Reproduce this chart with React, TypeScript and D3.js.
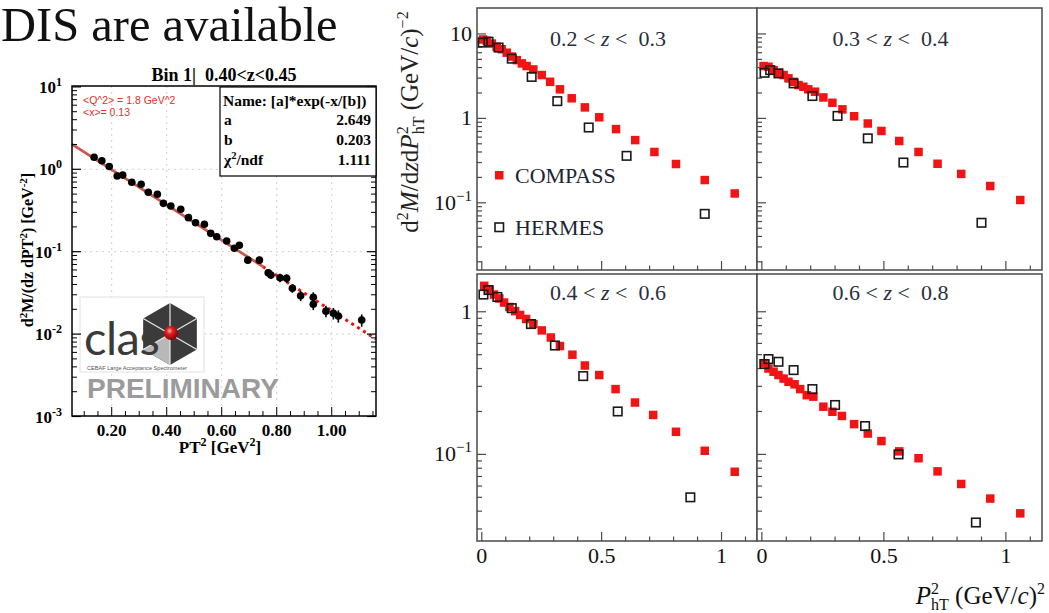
import React from "react";
import * as d3 from "d3";

const W = 1049;
const H = 613;
const SERIF = "'Liberation Serif', 'DejaVu Serif', serif";
const SANS = "'Liberation Sans', Arial, sans-serif";

// ---- CLAS preliminary, bin 1 (0.40<z<0.45)
const clasX = [0.136, 0.164, 0.191, 0.22, 0.24, 0.273, 0.307, 0.333, 0.366, 0.388, 0.415, 0.451, 0.479, 0.505, 0.537, 0.56, 0.582, 0.618, 0.646, 0.664, 0.695, 0.737, 0.769, 0.779, 0.812, 0.836, 0.857, 0.887, 0.933, 0.933, 0.979, 1.006, 1.024, 1.109];
const clasY = [1.4, 1.27, 1.08, 0.83, 0.85, 0.695, 0.658, 0.526, 0.497, 0.386, 0.359, 0.327, 0.259, 0.225, 0.215, 0.167, 0.152, 0.135, 0.11, 0.12, 0.079, 0.079, 0.0556, 0.052, 0.0483, 0.0475, 0.036, 0.0292, 0.028, 0.023, 0.019, 0.0179, 0.0166, 0.0148];
const clasErr = [0.05, 0.05, 0.05, 0.05, 0.05, 0.05, 0.05, 0.05, 0.05, 0.05, 0.06, 0.06, 0.06, 0.07, 0.07, 0.07, 0.08, 0.08, 0.08, 0.09, 0.09, 0.1, 0.1, 0.1, 0.12, 0.12, 0.12, 0.14, 0.15, 0.15, 0.16, 0.16, 0.17, 0.17];
const fitA = 2.649;
const fitB = 0.203;
const fitSolid = [0.055, 0.75];
const fitDotted = [0.75, 1.16];
const clasXTicks = [0.2, 0.4, 0.6, 0.8, 1.0];
const clasXLabels = ["0.20", "0.40", "0.60", "0.80", "1.00"];
const clasDecades = [-3, -2, -1, 0, 1];

// ---- COMPASS / HERMES multiplicities
const pX: [number, number] = [-0.02, 1.148];
const zBins = [["0.2", "0.3"], ["0.3", "0.4"], ["0.4", "0.6"], ["0.6", "0.8"]];

const c1x = [0.005, 0.021, 0.042, 0.062, 0.083, 0.104, 0.125, 0.146, 0.167, 0.187, 0.215, 0.25, 0.285, 0.326, 0.375, 0.43, 0.49, 0.56, 0.64, 0.72, 0.81, 0.93, 1.055];
const c1y = [8.6, 8.3, 7.7, 7.05, 6.6, 6.0, 5.4, 4.9, 4.48, 4.17, 3.8, 3.26, 2.71, 2.21, 1.73, 1.35, 1.03, 0.747, 0.553, 0.4, 0.288, 0.186, 0.129];
const h1x = [0.004, 0.028, 0.07, 0.125, 0.208, 0.315, 0.446, 0.604, 0.93];
const h1y = [7.9, 8.1, 6.9, 5.1, 3.1, 1.6, 0.78, 0.36, 0.074];

const c2x = [0.007, 0.027, 0.048, 0.068, 0.089, 0.109, 0.13, 0.15, 0.17, 0.19, 0.218, 0.252, 0.289, 0.33, 0.378, 0.434, 0.49, 0.563, 0.642, 0.72, 0.817, 0.936, 1.059];
const c2y = [4.17, 4.09, 3.73, 3.47, 3.26, 2.98, 2.71, 2.48, 2.37, 2.21, 2.07, 1.77, 1.53, 1.28, 1.06, 0.87, 0.71, 0.54, 0.4, 0.29, 0.22, 0.158, 0.108];
const h2x = [0.011, 0.034, 0.068, 0.13, 0.207, 0.31, 0.434, 0.58, 0.9];
const h2y = [3.47, 3.73, 3.41, 2.6, 1.84, 1.07, 0.58, 0.3, 0.058];

const c3x = [0.01, 0.032, 0.051, 0.073, 0.093, 0.115, 0.139, 0.16, 0.185, 0.215, 0.25, 0.288, 0.326, 0.378, 0.43, 0.49, 0.558, 0.639, 0.715, 0.81, 0.93, 1.055];
const c3y = [1.52, 1.42, 1.32, 1.24, 1.16, 1.08, 1.01, 0.95, 0.89, 0.82, 0.74, 0.66, 0.575, 0.5, 0.42, 0.36, 0.287, 0.231, 0.189, 0.144, 0.106, 0.0755];
const h3x = [0.007, 0.028, 0.065, 0.125, 0.205, 0.305, 0.423, 0.567, 0.87];
const h3y = [1.32, 1.42, 1.27, 1.06, 0.82, 0.58, 0.354, 0.2, 0.05];

const c4x = [0.007, 0.027, 0.048, 0.068, 0.089, 0.109, 0.134, 0.157, 0.184, 0.211, 0.252, 0.289, 0.328, 0.378, 0.434, 0.49, 0.563, 0.642, 0.72, 0.817, 0.936, 1.059];
const c4y = [0.435, 0.4, 0.38, 0.36, 0.34, 0.323, 0.31, 0.287, 0.26, 0.254, 0.216, 0.199, 0.186, 0.163, 0.14, 0.124, 0.105, 0.094, 0.076, 0.062, 0.049, 0.0386];
const h4x = [0.011, 0.027, 0.068, 0.13, 0.207, 0.3, 0.423, 0.56, 0.877];
const h4y = [0.43, 0.466, 0.446, 0.39, 0.287, 0.222, 0.158, 0.1, 0.0333];

const upperDomain: [number, number] = [0.016, 20.3];
const lowerDomain: [number, number] = [0.0247, 1.84];
const xTickLabels = ["0", "0.5", "1"];
const legendNames = ["COMPASS", "HERMES"];

const FRAME = "#4a4a4a";
const RED = "#f21414";

type PanelProps = {
  x0: number; x1: number; y0: number; y1: number;
  yDom: [number, number];
  cX: number[]; cY: number[]; hX: number[]; hY: number[];
  bin: string[];
  yLabels: boolean; xLabels: boolean; legend: boolean;
  titleY: number;
};

const Panel = (p: PanelProps) => {
  const x = d3.scaleLinear().domain(pX).range([p.x0, p.x1]);
  const y = d3.scaleLog().domain(p.yDom).range([p.y1, p.y0]);
  const yt = y.ticks().filter(v => y(v) > p.y0 + 1 && y(v) < p.y1 - 1);
  const xt = d3.range(0, 12).map(i => i / 10);
  const isMajor = (v: number) => Math.abs(Math.log10(v) - Math.round(Math.log10(v))) < 1e-6;
  const s = 8.5;
  return (
    <g>
      <rect x={p.x0} y={p.y0} width={p.x1 - p.x0} height={p.y1 - p.y0} fill="white" stroke={FRAME} strokeWidth={1.5} />
      {yt.map((v, i) => (
        <line key={"yt" + i} x1={p.x0} x2={p.x0 + (isMajor(v) ? 9 : 5)} y1={y(v)} y2={y(v)} stroke={FRAME} strokeWidth={1.2} />
      ))}
      {xt.map((v, i) => (
        <line key={"xt" + i} x1={x(v)} x2={x(v)} y1={p.y1} y2={p.y1 - (i % 5 === 0 ? 9 : 4.5)} stroke={FRAME} strokeWidth={1.2} />
      ))}
      {p.yLabels && yt.filter(isMajor).map((v, i) => {
        const e = Math.round(Math.log10(v));
        return (
          <text key={"yl" + i} x={p.x0 - 5} y={y(v) + 7} textAnchor="end" fontFamily={SERIF} fontSize={22} fill="#111">
            {e === 0 ? "1" : "10"}
            {e < 0 && <tspan dy={-9} fontSize={15}>{"\u2212" + -e}</tspan>}
          </text>
        );
      })}
      {p.xLabels && [0, 0.5, 1].map((v, i) => (
        <text key={"xl" + i} x={x(v)} y={p.y1 + 22} textAnchor="middle" fontFamily={SERIF} fontSize={22} fill="#111">{xTickLabels[i]}</text>
      ))}
      <text x={(p.x0 + p.x1) / 2 - 9} y={p.titleY} textAnchor="middle" fontFamily={SERIF} fontSize={22} fill="#2a2f3d" xmlSpace="preserve">
        {`${p.bin[0]} < `}<tspan fontStyle="italic">z</tspan>{` <  ${p.bin[1]}`}
      </text>
      {p.cX.map((v, i) => (
        <rect key={"c" + i} x={x(v) - s / 2} y={y(p.cY[i]) - s / 2} width={s} height={s} fill={RED} />
      ))}
      {p.hX.map((v, i) => (
        <rect key={"h" + i} x={x(v) - s / 2} y={y(p.hY[i]) - s / 2} width={s} height={s} fill="none" stroke="#1a1a1a" strokeWidth={1.6} />
      ))}
      {p.legend && (
        <g fontFamily={SERIF} fontSize={22} fill="#1d2433">
          <rect x={495} y={171} width={s} height={s} fill={RED} />
          <text x={515} y={183}>{legendNames[0]}</text>
          <rect x={495} y={223} width={s} height={s} fill="none" stroke="#1a1a1a" strokeWidth={1.6} />
          <text x={515} y={235}>{legendNames[1]}</text>
        </g>
      )}
    </g>
  );
};

const ClasPlot = () => {
  const x = d3.scaleLinear().domain([0.0556, 1.161]).range([72, 376]);
  const y = d3.scaleLog().domain([1e-3, 10]).range([416.5, 86.9]);
  const fit = (v: number) => fitA * Math.exp(-v / fitB);
  const line = d3.line<number>().x(v => x(v)).y(v => y(fit(v)));
  const minorY = y.ticks().filter(v => Math.abs(Math.log10(v) - Math.round(Math.log10(v))) > 1e-6);
  const minorX = d3.range(2, 24).map(i => i * 0.05).filter(v => x(v) < 375);
  return (
    <g>
      <rect x={72} y={86} width={304} height={330} fill="white" />
      {/* grid */}
      {clasXTicks.map((v, i) => (
        <line key={"gx" + i} x1={x(v)} x2={x(v)} y1={86} y2={416} stroke="#cfcfcf" strokeWidth={1} strokeDasharray="2 4" />
      ))}
      {clasDecades.slice(1, 4).map((e, i) => (
        <line key={"gy" + i} x1={72} x2={376} y1={y(Math.pow(10, e))} y2={y(Math.pow(10, e))} stroke="#cfcfcf" strokeWidth={1} strokeDasharray="2 4" />
      ))}
      {/* logo */}
      <g>
        <rect x={80} y={297} width={124} height={75} fill="white" stroke="#e2e2e2" strokeWidth={1} />
        {(() => {
          const cx0 = 170, cy0 = 334, r = 31;
          const pts = d3.range(6).map(k => {
            const a = (-90 + 60 * k) * Math.PI / 180;
            return [cx0 + r * Math.cos(a), cy0 + r * Math.sin(a)];
          });
          return (
            <g>
              <polygon points={pts.map(q => q.join(",")).join(" ")} fill="#3b3b3b" />
              <polygon points={`${cx0},${cy0} ${pts[3].join(",")} ${pts[4].join(",")}`} fill="#b8b8b8" />
              {pts.map((q, k) => (
                <line key={k} x1={cx0} y1={cy0} x2={q[0]} y2={q[1]} stroke="#e8e8e8" strokeWidth={1.2} />
              ))}
            </g>
          );
        })()}
        <text x={84} y={355} fontFamily="Lato, 'Open Sans', sans-serif" fontSize={47} fill="#3a3a3a" letterSpacing={-0.5}>clas</text>
        <defs>
          <radialGradient id="redball" cx="40%" cy="35%" r="65%">
            <stop offset="0%" stopColor="#ffb0b0" />
            <stop offset="35%" stopColor="#e32020" />
            <stop offset="100%" stopColor="#8a0000" />
          </radialGradient>
        </defs>
        <circle cx={171} cy={333} r={7} fill="url(#redball)" />
        <text x={87} y={370} fontFamily={SANS} fontSize={5.6} fill="#555">CEBAF Large Acceptance Spectrometer</text>
        <text x={87} y={398} fontFamily={SANS} fontSize={28} fontWeight="bold" fill="#9b9b9b">PRELIMINARY</text>
      </g>
      {/* fit */}
      <path d={line(d3.range(0, 11).map(i => fitSolid[0] + (fitSolid[1] - fitSolid[0]) * i / 10)) || ""} fill="none" stroke="#d2554a" strokeWidth={2.8} />
      <path d={line(fitDotted) || ""} fill="none" stroke="#f01010" strokeWidth={3} strokeDasharray="3 4" />
      {/* data */}
      {clasX.map((v, i) => (
        <g key={"p" + i}>
          <line x1={x(v)} x2={x(v)} y1={y(clasY[i] * (1 - clasErr[i]))} y2={y(clasY[i] * (1 + clasErr[i]))} stroke="black" strokeWidth={1.6} />
          <circle cx={x(v)} cy={y(clasY[i])} r={3.8} fill="black" />
        </g>
      ))}
      {/* frame & ticks */}
      <rect x={72} y={86} width={304} height={330} fill="none" stroke="black" strokeWidth={1.5} />
      {clasDecades.map((e, i) => (
        <g key={"yd" + i}>
          <line x1={72} x2={81} y1={y(Math.pow(10, e))} y2={y(Math.pow(10, e))} stroke="black" strokeWidth={1.2} />
          <line x1={376} x2={367} y1={y(Math.pow(10, e))} y2={y(Math.pow(10, e))} stroke="black" strokeWidth={1.2} />
          <text x={62} y={y(Math.pow(10, e)) + 6} textAnchor="end" fontFamily={SERIF} fontWeight="bold" fontSize={17}>
            10<tspan dy={-7} fontSize={12}>{e < 0 ? "-" + -e : String(e)}</tspan>
          </text>
        </g>
      ))}
      {minorY.map((v, i) => (
        <g key={"ym" + i}>
          <line x1={72} x2={77} y1={y(v)} y2={y(v)} stroke="black" strokeWidth={1} />
          <line x1={376} x2={371} y1={y(v)} y2={y(v)} stroke="black" strokeWidth={1} />
        </g>
      ))}
      {minorX.map((v, i) => {
        const major = Math.abs(v * 5 - Math.round(v * 5)) < 1e-6;
        return <line key={"xm" + i} x1={x(v)} x2={x(v)} y1={416} y2={416 - (major ? 9 : 5)} stroke="black" strokeWidth={1} />;
      })}
      {clasXTicks.map((v, i) => (
        <text key={"xl" + i} x={x(v)} y={436} textAnchor="middle" fontFamily={SERIF} fontWeight="bold" fontSize={17}>{clasXLabels[i]}</text>
      ))}
      {/* stats box */}
      <rect x={220} y={87} width={156} height={89} fill="white" stroke="black" strokeWidth={1.2} />
      <g fontFamily={SERIF} fontWeight="bold" fontSize={15.5}>
        <text x={223} y={106}>Name: [a]*exp(-x/[b])</text>
        <text x={224} y={125}>a</text>
        <text x={371} y={125} textAnchor="end">2.649</text>
        <text x={224} y={145}>b</text>
        <text x={371} y={145} textAnchor="end">0.203</text>
        <text x={224} y={165}>χ<tspan dy={-6} fontSize={10.5}>2</tspan><tspan dy={6}>/ndf</tspan></text>
        <text x={371} y={165} textAnchor="end">1.111</text>
      </g>
      <g fontFamily={SANS} fontSize={10.5} fill="#e0302a">
        <text x={83} y={104}>{"<Q^2> = 1.8 GeV^2"}</text>
        <text x={83} y={116}>{"<x>= 0.13"}</text>
      </g>
      {/* titles */}
      <text x={224} y={81} textAnchor="middle" fontFamily={SERIF} fontWeight="bold" fontSize={18} xmlSpace="preserve">Bin 1|  0.40&lt;z&lt;0.45</text>
      <text x={220} y={453} textAnchor="middle" fontFamily={SERIF} fontWeight="bold" fontSize={17}>
        PT<tspan dy={-7} fontSize={12}>2</tspan><tspan dy={7}> [GeV</tspan><tspan dy={-7} fontSize={12}>2</tspan><tspan dy={7}>]</tspan>
      </text>
      <text transform="translate(33,250) rotate(-90)" textAnchor="middle" fontFamily={SERIF} fontWeight="bold" fontSize={16}>
        d<tspan dy={-6} fontSize={11}>2</tspan><tspan dy={6}>M/(dz dPT</tspan><tspan dy={-6} fontSize={11}>2</tspan><tspan dy={6}>) [GeV</tspan><tspan dy={-6} fontSize={11}>-2</tspan><tspan dy={6}>]</tspan>
      </text>
    </g>
  );
};

export default function App() {
  const panels = [
    { x0: 477, x1: 757, y0: 8, y1: 270, yDom: upperDomain, cX: c1x, cY: c1y, hX: h1x, hY: h1y, yLabels: true, xLabels: false, legend: true, titleY: 46 },
    { x0: 757, x1: 1042, y0: 8, y1: 270, yDom: upperDomain, cX: c2x, cY: c2y, hX: h2x, hY: h2y, yLabels: false, xLabels: false, legend: false, titleY: 46 },
    { x0: 477, x1: 757, y0: 274, y1: 541, yDom: lowerDomain, cX: c3x, cY: c3y, hX: h3x, hY: h3y, yLabels: true, xLabels: true, legend: false, titleY: 300 },
    { x0: 757, x1: 1042, y0: 274, y1: 541, yDom: lowerDomain, cX: c4x, cY: c4y, hX: h4x, hY: h4y, yLabels: false, xLabels: true, legend: false, titleY: 300 },
  ];
  return (
    <div style={{ position: "absolute", left: 0, top: 0 }}>
      <svg width={W} height={H} style={{ display: "block", background: "white" }}>
        <text x={1} y={41} fontFamily={SERIF} fontSize={48.5} fill="#111">DIS are available</text>
        <ClasPlot />
        {panels.map((p, i) => (
          <Panel key={i} {...p} bin={zBins[i]} />
        ))}
        <text transform="translate(418,122) rotate(-90)" textAnchor="middle" fontFamily={SERIF} fontSize={25} fill="#222">
          d<tspan dy={-10} fontSize={16}>2</tspan><tspan dy={10} fontStyle="italic">M</tspan>/d<tspan fontStyle="italic">z</tspan>d<tspan fontStyle="italic">P</tspan><tspan dy={-10} fontSize={16}>2</tspan><tspan dx={-8} dy={16} fontSize={16}>hT</tspan><tspan dy={-6}> (GeV/</tspan><tspan fontStyle="italic">c</tspan>)<tspan dy={-10} fontSize={16}>{"\u22122"}</tspan>
        </text>
        <text x={1045} y={604} textAnchor="end" fontFamily={SERIF} fontSize={25} fill="#111">
          <tspan fontStyle="italic">P</tspan><tspan dy={-10} fontSize={16}>2</tspan><tspan dx={-8} dy={16} fontSize={16}>hT</tspan><tspan dy={-6}> (GeV/</tspan><tspan fontStyle="italic">c</tspan>)<tspan dy={-10} fontSize={16}>2</tspan>
        </text>
      </svg>
    </div>
  );
}
